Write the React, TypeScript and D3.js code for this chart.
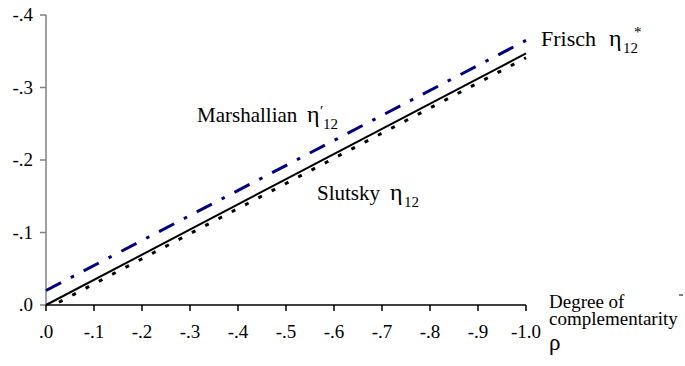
import React from "react";
import * as d3 from "d3";

// Degree of complementarity (rho) at the ends of each straight line
const rho: number[] = [0, -1.0];
const rhoSlutsky: number[] = [-0.016, -1.0];

// Cross elasticities eta_12
const frisch: number[] = [-0.02, -0.365];
const marshallian: number[] = [0, -0.347];
const slutsky: number[] = [0, -0.341];

// Axis ticks
const xTicks: number[] = [0, -0.1, -0.2, -0.3, -0.4, -0.5, -0.6, -0.7, -0.8, -0.9, -1.0];
const xTickLabels: string[] = [".0", "-.1", "-.2", "-.3", "-.4", "-.5", "-.6", "-.7", "-.8", "-.9", "-1.0"];
const yTicks: number[] = [0, -0.1, -0.2, -0.3, -0.4];
const yTickLabels: string[] = [".0", "-.1", "-.2", "-.3", "-.4"];

const W = 685;
const H = 366;

export default function App() {
  const x = d3.scaleLinear().domain([0, -1]).range([46, 526]);
  const y = d3.scaleLinear().domain([0, -0.4]).range([305, 15]);

  const line = d3
    .line<[number, number]>()
    .x((d) => x(d[0]))
    .y((d) => y(d[1]));

  const pts = (xs: number[], ys: number[]) =>
    xs.map((v, i) => [v, ys[i]] as [number, number]);

  const [x0, x1] = x.range();
  const [yBottom, yTop] = y.range();

  return (
    <svg
      width={W}
      height={H}
      style={{ position: "absolute", left: 0, top: 0 }}
      fontFamily="Liberation Serif"
    >
      <style>{`text { font-family: "Liberation Serif", "DejaVu Serif", serif !important; }`}</style>
      <rect x={0} y={0} width={W} height={H} fill="#fff" />

      {/* y axis */}
      <line x1={x0} x2={x0} y1={yBottom} y2={yTop} stroke="#808080" strokeWidth={1.5} />
      {yTicks.map((t, i) => (
        <g key={"y" + i}>
          <line x1={x0 - 6} x2={x0} y1={y(t)} y2={y(t)} stroke="#808080" strokeWidth={1.5} />
          <text x={33} y={y(t) + 6} fontSize={19} textAnchor="end" fontFamily="Liberation Serif">
            {yTickLabels[i]}
          </text>
        </g>
      ))}

      {/* x axis */}
      <line x1={x0} x2={x1} y1={yBottom} y2={yBottom} stroke="#000" strokeWidth={1.5} />
      {xTicks.map((t, i) => (
        <g key={"x" + i}>
          <line x1={x(t)} x2={x(t)} y1={yBottom} y2={yBottom + 6} stroke="#000" strokeWidth={1.5} />
          <text x={x(t)} y={338} fontSize={19} textAnchor="middle" fontFamily="Liberation Serif">
            {xTickLabels[i]}
          </text>
        </g>
      ))}
      <line x1={679} x2={683} y1={295} y2={295} stroke="#000" strokeWidth={1} />

      {/* x axis title */}
      <text x={549} y={308} fontSize={19} fontFamily="Liberation Serif">Degree of</text>
      <text x={549} y={325} fontSize={19} fontFamily="Liberation Serif">complementarity</text>
      <text x={549} y={350} fontSize={23} fontFamily="Liberation Serif">ρ</text>

      {/* lines */}
      <path
        d={line(pts(rho, frisch)) ?? ""}
        fill="none"
        stroke="#000080"
        strokeWidth={3}
        strokeDasharray="17 11 3.5 11"
      />
      <path
        d={line(pts(rho, marshallian)) ?? ""}
        fill="none"
        stroke="#000"
        strokeWidth={2}
      />
      <path
        d={line(pts(rhoSlutsky, slutsky)) ?? ""}
        fill="none"
        stroke="#000"
        strokeWidth={3}
        strokeDasharray="4 11"
        strokeDashoffset={-6}
      />

      {/* series labels */}
      <text x={541} y={46} fontSize={22} fontFamily="Liberation Serif">Frisch</text>
      <text x={609} y={46} fontSize={24} fontFamily="Liberation Serif">η</text>
      <text x={623} y={53} fontSize={15} fontFamily="Liberation Serif">12</text>
      <text x={634} y={37} fontSize={15} fontFamily="Liberation Serif">*</text>

      <text x={197} y={122} fontSize={21} fontFamily="Liberation Serif">Marshallian</text>
      <text x={307} y={122} fontSize={24} fontFamily="Liberation Serif">η</text>
      <text x={320} y={116} fontSize={15} fontFamily="Liberation Serif">′</text>
      <text x={323} y={129} fontSize={15} fontFamily="Liberation Serif">12</text>

      <text x={317} y={200} fontSize={21} fontFamily="Liberation Serif">Slutsky</text>
      <text x={390} y={200} fontSize={24} fontFamily="Liberation Serif">η</text>
      <text x={404} y={207} fontSize={15} fontFamily="Liberation Serif">12</text>
    </svg>
  );
}
